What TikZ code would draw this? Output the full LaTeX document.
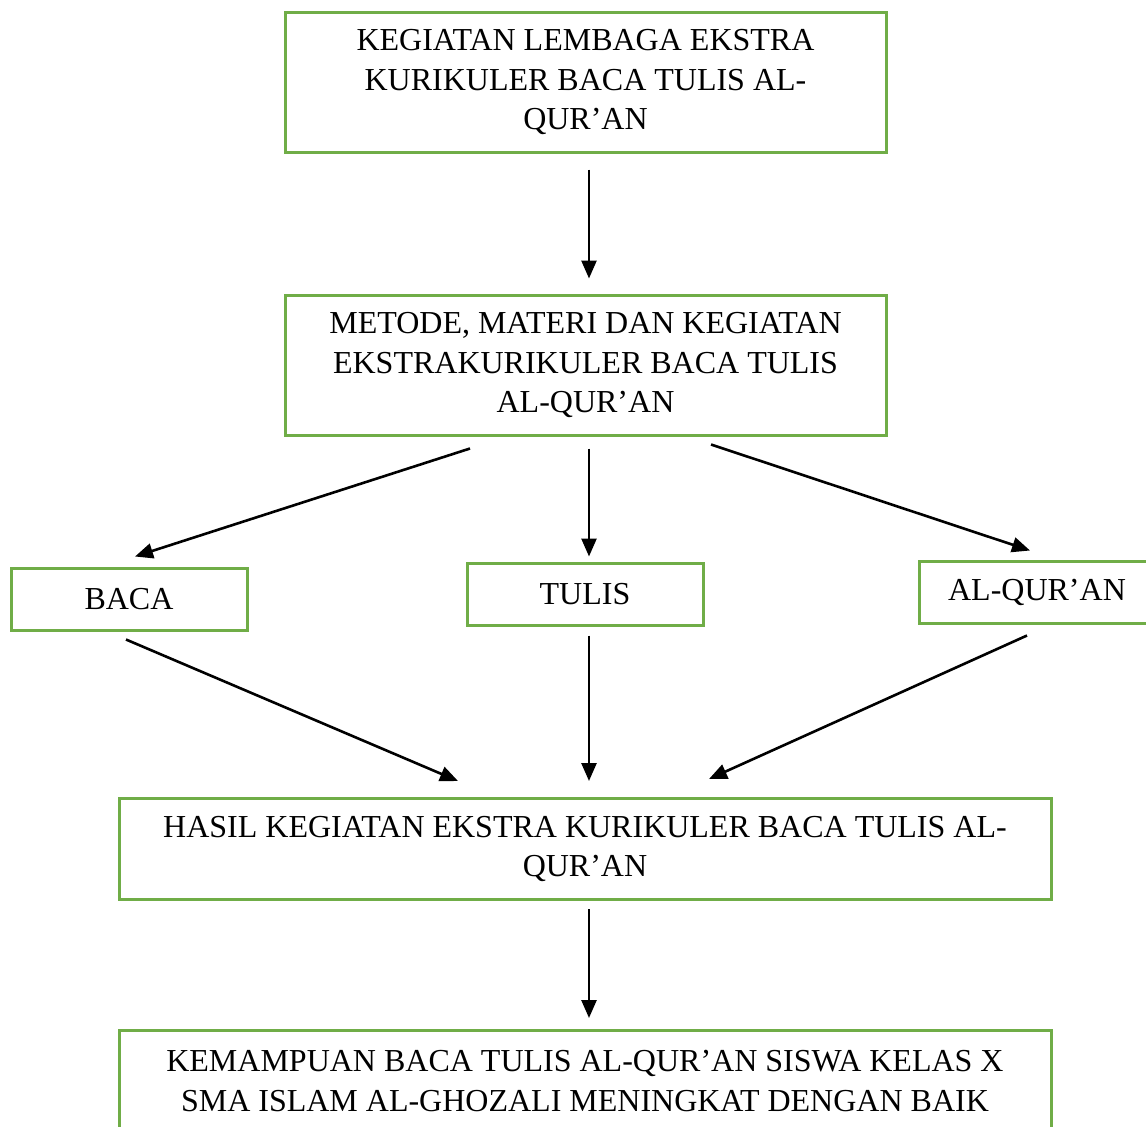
\documentclass[tikz,border=0pt]{standalone}
\usepackage{fontspec}
\setmainfont{Liberation Serif}
\usetikzlibrary{arrows.meta}
\definecolor{boxgreen}{HTML}{70AD47}

\begin{document}
\begin{tikzpicture}
[x=1pt,y=-1pt,%
  every node/.style={draw=boxgreen,line width=3pt,inner sep=0pt,align=center,%
    font=\fontsize{32}{39.5}\selectfont},%
  wide/.style={minimum width=601pt,minimum height=140pt},%
  small/.style={minimum width=236pt,minimum height=62pt},%
  arr/.style={-{Triangle[length=18pt,width=15pt]},line width=2.6pt}]
\clip (0,0) rectangle (1146,1127);
\node[wide] (kegiatan) at (585.5,82) {KEGIATAN LEMBAGA EKSTRA\\KURIKULER BACA TULIS AL-\\QUR’AN};
\node[wide] (metode) at (585.5,365) {METODE, MATERI DAN KEGIATAN\\EKSTRAKURIKULER BACA TULIS\\AL-QUR’AN};
\node[small] (baca) at (129,599) {BACA};
\node[small] (tulis) at (585,594) {TULIS};
\node[small] (alquran) at (1037,592) {AL-QUR’AN};
\node[minimum width=932pt,minimum height=101pt] (hasil) at (585,849) {HASIL KEGIATAN EKSTRA KURIKULER BACA TULIS AL-\\QUR’AN};
\node[minimum width=932pt,minimum height=101pt] (kemampuan) at (585,1081) {KEMAMPUAN BACA TULIS AL-QUR’AN SISWA KELAS X\\SMA ISLAM AL-GHOZALI MENINGKAT DENGAN BAIK};

\draw[arr] ([xshift=3.5pt,yshift=-16pt]kegiatan.south) -- ([xshift=3.5pt,yshift=15pt]metode.north);
\draw[arr] ([xshift=-115.5pt,yshift=-12pt]metode.south) -- ([xshift=6pt,yshift=10pt]baca.north);
\draw[arr] ([xshift=3.5pt,yshift=-12pt]metode.south) -- ([xshift=4pt,yshift=5pt]tulis.north);
\draw[arr] ([xshift=125.5pt,yshift=-8pt]metode.south) -- ([xshift=-7pt,yshift=9pt]alquran.north);
\draw[arr] ([xshift=-3pt,yshift=-8pt]baca.south) -- ([xshift=-127pt,yshift=16pt]hasil.north);
\draw[arr] ([xshift=4pt,yshift=-9pt]tulis.south) -- ([xshift=4pt,yshift=16pt]hasil.north);
\draw[arr] ([xshift=-10pt,yshift=-11pt]alquran.south) -- ([xshift=124pt,yshift=18pt]hasil.north);
\draw[arr] ([xshift=4pt,yshift=-8pt]hasil.south) -- ([xshift=4pt,yshift=11pt]kemampuan.north);
\end{tikzpicture}
\end{document}
